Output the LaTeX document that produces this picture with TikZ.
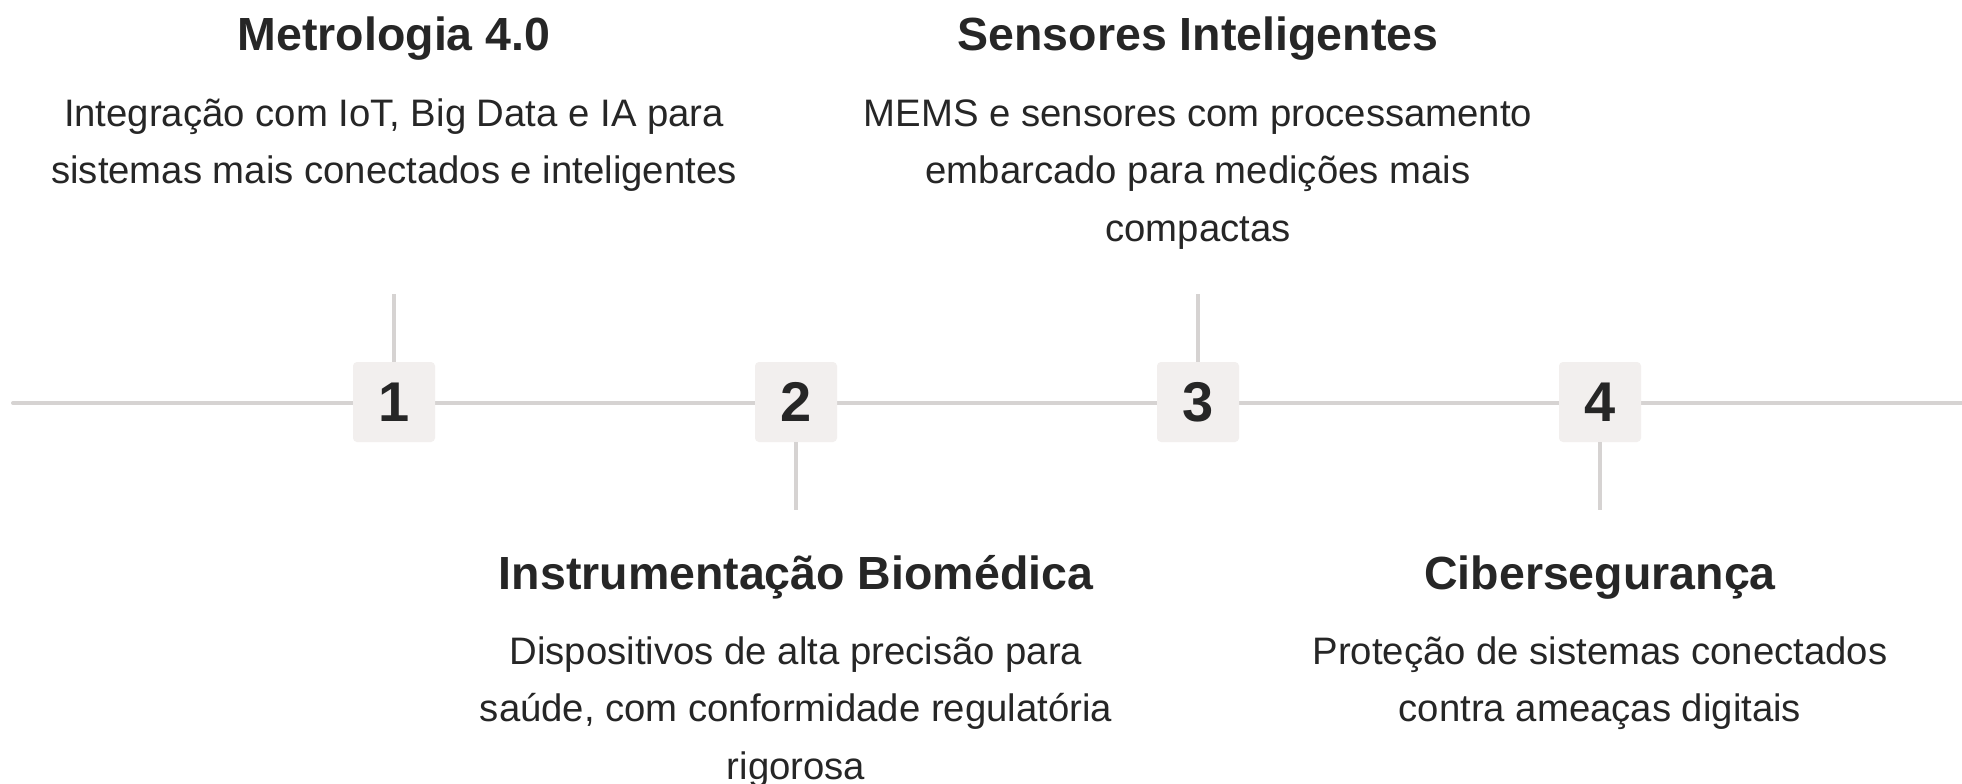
\documentclass[tikz,border=0pt]{standalone}
\usepackage{fontspec}
\setmainfont{Liberation Sans}
\definecolor{txt}{HTML}{262626}
\definecolor{ln}{HTML}{D6D3D2}
\definecolor{boxf}{HTML}{F2EFEE}
\begin{document}
\begin{tikzpicture}[x=1pt,y=-1pt,
  numbox/.style={fill=boxf, rounded corners=4pt, minimum width=82pt, minimum height=80pt, inner sep=0pt, text=txt, font=\fontsize{56}{56}\selectfont\bfseries},
  ttl/.style={anchor=base, text=txt, inner sep=0pt, font=\fontsize{46.5}{54}\selectfont\bfseries},
  desc/.style={anchor=north, align=center, text=txt, inner sep=0pt, font=\fontsize{38.3}{57.5}\selectfont},
  conn/.style={draw=ln, line width=4pt}]
\useasboundingbox (0,0) rectangle (1962,784);
\fill[white] (0,0) rectangle (1962,784);
\coordinate (L) at (13,403);
\coordinate (R) at (1962,403);
\draw[conn, line cap=round] (L) -- (R);
\node[numbox] (n1) at (394,402) {1};
\node[numbox] (n2) at (796,402) {2};
\node[numbox] (n3) at (1198,402) {3};
\node[numbox] (n4) at (1600,402) {4};
\coordinate (t1) at (394,294);
\coordinate (t3) at (1198,294);
\coordinate (b2) at (796,510);
\coordinate (b4) at (1600,510);
\draw[conn] (n1.north) -- (t1);
\draw[conn] (n3.north) -- (t3);
\draw[conn] (n2.south) -- (b2);
\draw[conn] (n4.south) -- (b4);
\node[ttl] (h1) at (394,51) {Metrologia 4.0};
\node[desc] (d1) at (394,96) {\rule{0pt}{30pt}Integração com IoT, Big Data e IA para\\sistemas mais conectados e inteligentes};
\node[ttl] (h3) at (1198,51) {Sensores Inteligentes};
\node[desc] (d3) at (1198,96) {\rule{0pt}{30pt}MEMS e sensores com processamento\\embarcado para medições mais\\compactas};
\node[ttl] (h2) at (796,589) {Instrumentação Biomédica};
\node[desc] (d2) at (796,634) {\rule{0pt}{30pt}Dispositivos de alta precisão para\\saúde, com conformidade regulatória\\rigorosa};
\node[ttl] (h4) at (1600,589) {Cibersegurança};
\node[desc] (d4) at (1600,634) {\rule{0pt}{30pt}Proteção de sistemas conectados\\contra ameaças digitais};
\end{tikzpicture}
\end{document}
